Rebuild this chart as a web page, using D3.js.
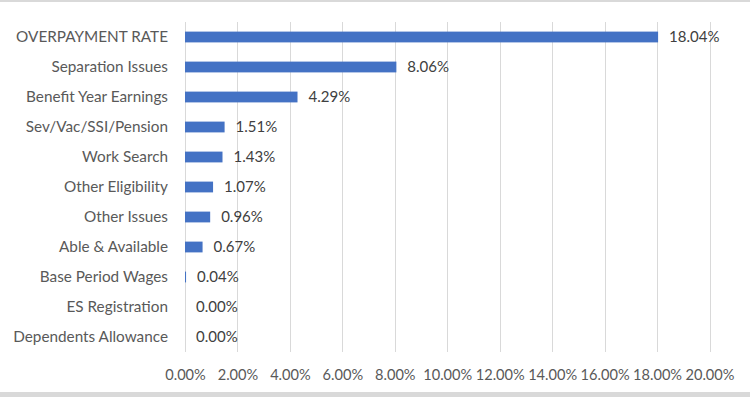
<!DOCTYPE html>
<html>
<head>
<meta charset="utf-8">
<script src="https://cdn.jsdelivr.net/npm/d3@7"></script>
<style>
  body { margin: 0; background: #ffffff; }
  text { font-family: Lato, "Open Sans", sans-serif; }
</style>
</head>
<body>
<svg id="chart" width="750" height="397"></svg>
<script>
// categories, top to bottom
var categories = ["OVERPAYMENT RATE", "Separation Issues", "Benefit Year Earnings",
  "Sev/Vac/SSI/Pension", "Work Search", "Other Eligibility", "Other Issues",
  "Able & Available", "Base Period Wages", "ES Registration", "Dependents Allowance"];
// rates in percent
var rates = [18.04, 8.06, 4.29, 1.51, 1.43, 1.07, 0.96, 0.67, 0.04, 0.00, 0.00];
var tickValues = [0, 2, 4, 6, 8, 10, 12, 14, 16, 18, 20];

var svg = d3.select("#chart");
var width = 750, height = 397;

//plot area (note: "top" is reserved on window, so plotTop etc.)
var plotLeft = 185, plotRight = 709.5, plotTop = 22, plotBottom = 352;

var x = d3.scaleLinear().domain([0, 20]).range([plotLeft, plotRight]);
var y = d3.scaleBand().domain(categories).range([plotTop, plotBottom]).paddingInner(0.64).paddingOuter(0.32);

//frame lines at top and bottom of the picture
svg.append("rect").attr("x", 0).attr("y", 0).attr("width", width).attr("height", 2).attr("fill", "#d9d9d9");
svg.append("rect").attr("x", 0).attr("y", 392).attr("width", width).attr("height", 5).attr("fill", "#d9d9d9");

//gridlines
svg.append("g").selectAll("line")
  .data(tickValues)
  .enter().append("line")
  .attr("x1", d => Math.round(x(d)) + 0.5)
  .attr("x2", d => Math.round(x(d)) + 0.5)
  .attr("y1", plotTop)
  .attr("y2", plotBottom)
  .attr("stroke", "#d9d9d9")
  .attr("stroke-width", 1);

//x axis tick labels
var xAxis = d3.axisBottom(x).tickValues(tickValues).tickSize(0).tickPadding(0)
  .tickFormat(d => d.toFixed(2) + "%");
var gx = svg.append("g").attr("transform", "translate(0," + 370 + ")").call(xAxis);
gx.select(".domain").remove();
gx.selectAll("text")
  .attr("fill", "#595959")
  .attr("font-size", "14.6px")
  .attr("dy", "0.71em")
  .style("font-family", "Lato, 'Open Sans', sans-serif");

//category labels
var yAxis = d3.axisLeft(y).tickSize(0).tickPadding(17);
var gy = svg.append("g").attr("transform", "translate(" + plotLeft + ",0)").call(yAxis);
gy.select(".domain").remove();
gy.selectAll("text")
  .attr("fill", "#595959")
  .attr("font-size", "15.3px")
  .style("font-family", "Lato, 'Open Sans', sans-serif");

//bars
svg.append("g").selectAll("rect")
  .data(rates)
  .enter().append("rect")
  .attr("x", x(0))
  .attr("y", (d, i) => y(categories[i]))
  .attr("width", d => x(d) - x(0))
  .attr("height", y.bandwidth())
  .attr("fill", "#4472c4");

//value labels
svg.append("g").selectAll("text")
  .data(rates)
  .enter().append("text")
  .attr("x", d => x(d) + 11)
  .attr("y", (d, i) => y(categories[i]) + y.bandwidth() / 2)
  .attr("dy", "0.35em")
  .attr("fill", "#404040")
  .attr("font-size", "15px")
  .text(d => d.toFixed(2) + "%");
</script>
</body>
</html>
